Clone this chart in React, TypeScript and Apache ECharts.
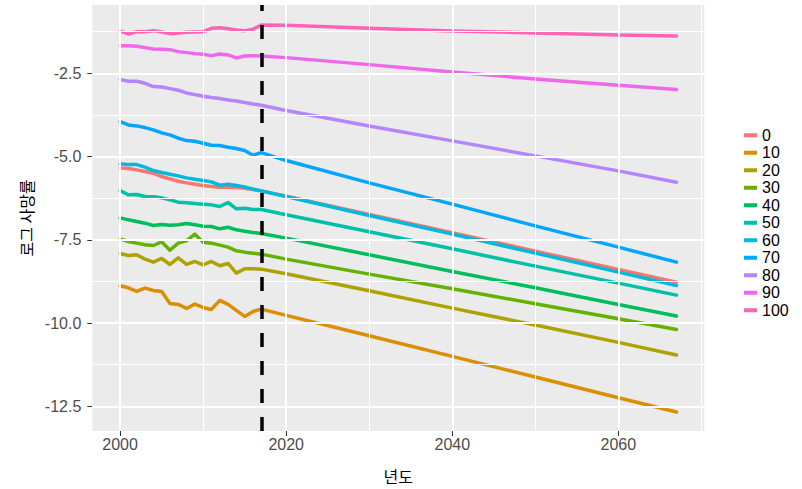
import React, { useEffect, useRef } from "react";
import * as echarts from "echarts";

const histYears = [2000, 2001, 2002, 2003, 2004, 2005, 2006, 2007, 2008, 2009, 2010, 2011, 2012, 2013, 2014, 2015, 2016, 2017];
const projYears = [2020, 2030, 2040, 2050, 2060, 2067];

const ages = ["0", "10", "20", "30", "40", "50", "60", "70", "80", "90", "100"];

const age0 = [-5.34, -5.36, -5.40, -5.45, -5.50, -5.60, -5.67, -5.74, -5.79, -5.83, -5.87, -5.90, -5.92, -5.92, -5.93, -5.95, -5.99, -6.03, -6.19, -6.74, -7.29, -7.84, -8.39, -8.77];
const age10 = [-8.88, -8.94, -9.05, -8.95, -9.02, -9.05, -9.41, -9.44, -9.56, -9.43, -9.53, -9.59, -9.32, -9.44, -9.62, -9.80, -9.65, -9.58, -9.77, -10.38, -11.00, -11.62, -12.24, -12.67];
const age20 = [-7.91, -7.97, -7.95, -8.08, -8.17, -8.06, -8.24, -8.04, -8.24, -8.15, -8.25, -8.15, -8.28, -8.21, -8.50, -8.37, -8.37, -8.38, -8.52, -9.03, -9.55, -10.06, -10.58, -10.96];
const age30 = [-7.47, -7.55, -7.60, -7.65, -7.67, -7.56, -7.81, -7.60, -7.53, -7.33, -7.57, -7.60, -7.66, -7.72, -7.83, -7.87, -7.90, -7.93, -8.08, -8.53, -8.97, -9.42, -9.87, -10.19];
const age40 = [-6.84, -6.90, -6.95, -7.00, -7.07, -7.04, -7.06, -7.05, -7.01, -7.05, -7.09, -7.10, -7.17, -7.12, -7.20, -7.24, -7.28, -7.31, -7.45, -7.95, -8.45, -8.94, -9.44, -9.79];
const age50 = [-6.02, -6.15, -6.14, -6.20, -6.21, -6.24, -6.30, -6.37, -6.39, -6.41, -6.43, -6.45, -6.50, -6.38, -6.57, -6.55, -6.59, -6.59, -6.75, -7.26, -7.77, -8.29, -8.80, -9.16];
const age60 = [-5.22, -5.24, -5.24, -5.32, -5.42, -5.48, -5.53, -5.58, -5.64, -5.68, -5.72, -5.76, -5.86, -5.83, -5.87, -5.91, -5.98, -6.03, -6.20, -6.77, -7.33, -7.90, -8.47, -8.87];
const age70 = [-3.95, -4.05, -4.08, -4.13, -4.20, -4.29, -4.35, -4.45, -4.52, -4.54, -4.60, -4.66, -4.67, -4.72, -4.76, -4.82, -4.96, -4.88, -5.12, -5.79, -6.43, -7.08, -7.72, -8.17];
const age80 = [-2.69, -2.74, -2.74, -2.80, -2.90, -2.91, -2.96, -3.01, -3.09, -3.14, -3.19, -3.23, -3.26, -3.30, -3.33, -3.38, -3.42, -3.46, -3.62, -4.08, -4.53, -4.98, -5.43, -5.77];
const age90 = [-1.67, -1.67, -1.69, -1.73, -1.77, -1.78, -1.79, -1.85, -1.88, -1.91, -1.93, -1.97, -1.92, -1.95, -2.04, -1.98, -1.97, -1.98, -2.03, -2.24, -2.46, -2.67, -2.86, -2.99];
const age100 = [-1.23, -1.32, -1.25, -1.25, -1.22, -1.26, -1.31, -1.29, -1.27, -1.26, -1.25, -1.15, -1.13, -1.16, -1.20, -1.22, -1.18, -1.05, -1.06, -1.15, -1.23, -1.29, -1.35, -1.38];

const seriesValues = [age0, age10, age20, age30, age40, age50, age60, age70, age80, age90, age100];

const xMajorTicks = [2000, 2020, 2040, 2060];
const xMinorTicks = [2010, 2030, 2050, 2070];
const yMajorTicks = [-12.5, -10.0, -7.5, -5.0, -2.5];
const yMinorTicks = [-11.25, -8.75, -6.25, -3.75, -1.25];
const projectionStart = 2017;

const palette = ["#F8766D", "#DB8E00", "#AEA200", "#64B200", "#00BD5C", "#00C1A7", "#00BADE", "#00A6FF", "#B385FF", "#EF67EB", "#FF63B6"];

export default function App() {
  const ref = useRef<HTMLDivElement>(null);

  useEffect(() => {
    if (!ref.current) return;
    const chart = echarts.init(ref.current, undefined, { renderer: "svg" });
    const years = [...histYears, ...projYears];

    const dataSeries = ages.map((a, i) => ({
      name: a,
      type: "line",
      data: years.map((yr, j) => [yr, seriesValues[i][j]]),
      symbol: "none",
      showSymbol: false,
      silent: true,
      z: 3,
      lineStyle: { width: 3.5, color: palette[i], cap: "round", join: "round" },
      itemStyle: { color: palette[i] },
    }));

    const gridLines = {
      name: "__grid",
      type: "line",
      data: [[2000, -5]],
      symbol: "none",
      silent: true,
      z: 1,
      lineStyle: { opacity: 0 },
      markLine: {
        silent: true,
        symbol: ["none", "none"],
        label: { show: false },
        animation: false,
        data: [
          ...xMinorTicks.map((v) => ({ xAxis: v, lineStyle: { color: "#FFFFFF", width: 1, type: "solid" } })),
          ...yMinorTicks.map((v) => ({ yAxis: v, lineStyle: { color: "#FFFFFF", width: 1, type: "solid" } })),
          ...xMajorTicks.map((v) => ({ xAxis: v, lineStyle: { color: "#FFFFFF", width: 2, type: "solid" } })),
          ...yMajorTicks.map((v) => ({ yAxis: v, lineStyle: { color: "#FFFFFF", width: 2, type: "solid" } })),
        ],
      },
    };

    const vline = {
      name: "__vline",
      type: "line",
      data: [[2000, -5]],
      symbol: "none",
      silent: true,
      z: 10,
      lineStyle: { opacity: 0 },
      markLine: {
        silent: true,
        symbol: ["none", "none"],
        label: { show: false },
        animation: false,
        data: [{ xAxis: projectionStart, lineStyle: { color: "#000000", width: 3.5, type: [14, 14] } }],
      },
    };

    chart.setOption({
      animation: false,
      grid: {
        left: 92.3,
        right: 97.7,
        top: 5,
        bottom: 55.5,
        show: true,
        backgroundColor: "#EBEBEB",
        borderWidth: 0,
      },
      legend: {
        data: ages,
        orient: "vertical",
        left: 739,
        top: 121.5,
        itemWidth: 13,
        itemHeight: 4,
        itemGap: 0,
        icon: "rect",
        selectedMode: false,
        textStyle: { fontSize: 16, color: "#000000", fontFamily: "Liberation Sans, Arial, sans-serif", lineHeight: 17.5 },
      },
      xAxis: {
        type: "value",
        min: 1996.65,
        max: 2070.35,
        name: "년도",
        nameLocation: "middle",
        nameGap: 37,
        nameTextStyle: { fontSize: 16, color: "#000000", fontFamily: "Noto Sans CJK KR, sans-serif" },
        axisLine: { show: false },
        splitLine: { show: false },
        axisTick: { show: true, length: 5, customValues: xMajorTicks, lineStyle: { color: "#333333", width: 1 } },
        axisLabel: {
          customValues: xMajorTicks,
          margin: 5,
          fontSize: 16,
          color: "#4D4D4D",
          fontFamily: "Liberation Sans, Arial, sans-serif",
          formatter: (v: number) => String(v),
        },
      },
      yAxis: {
        type: "value",
        min: -13.24,
        max: -0.45,
        name: "로그 사망률",
        nameLocation: "middle",
        nameRotate: 90,
        nameGap: 57,
        nameTextStyle: { fontSize: 16, color: "#000000", fontFamily: "Noto Sans CJK KR, sans-serif" },
        axisLine: { show: false },
        splitLine: { show: false },
        axisTick: { show: true, length: 5, customValues: yMajorTicks, lineStyle: { color: "#333333", width: 1 } },
        axisLabel: {
          customValues: yMajorTicks,
          margin: 11,
          fontSize: 16,
          color: "#4D4D4D",
          fontFamily: "Liberation Sans, Arial, sans-serif",
          formatter: (v: number) => v.toFixed(1),
        },
      },
      series: [gridLines, ...dataSeries, vline],
    });

    return () => chart.dispose();
  }, []);

  return (
    <div
      ref={ref}
      style={{ position: "absolute", left: 0, top: 0, width: 802, height: 489, background: "#FFFFFF" }}
    />
  );
}
